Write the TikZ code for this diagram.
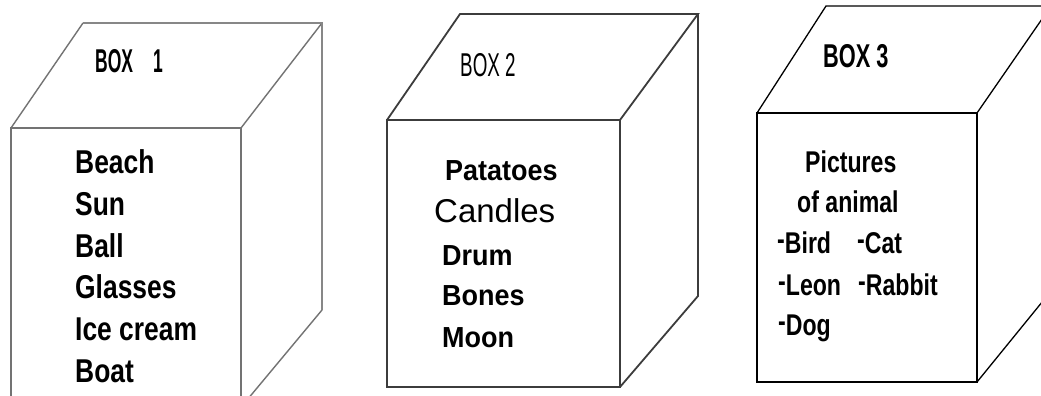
\documentclass[tikz,border=0pt]{standalone}
\usepackage{fontspec}
\setmainfont{Liberation Sans}
\newfontfamily\fitemA{Liberation Sans}[FakeStretch=0.80]
\newfontfamily\fitemB{Liberation Sans}[FakeStretch=0.93]
\newfontfamily\fitemC{Liberation Sans}[FakeStretch=0.77]
\newfontfamily\flabN{Liberation Sans}[FakeStretch=0.57]
\newfontfamily\flabO{Liberation Sans}[FakeStretch=0.53]
\newfontfamily\flabB{Liberation Sans}[FakeStretch=0.66]
\definecolor{lineA}{RGB}{115,115,115}
\definecolor{lineAback}{RGB}{135,135,135}
\definecolor{lineB}{RGB}{60,60,60}
\tikzset{
  boxa/.style={draw=lineA, line width=1.4pt, line join=miter},
  boxaback/.style={draw=lineAback, line width=2.6pt},
  boxb/.style={draw=lineB, line width=1.8pt, line join=miter},
  boxc/.style={draw=black, line width=1.3pt, line join=miter},
  itemA/.style={anchor=base west, inner sep=0pt, font=\fitemA\bfseries\fontsize{33}{40}\selectfont},
  itemB/.style={anchor=base west, inner sep=0pt, font=\fitemB\bfseries\fontsize{29}{35}\selectfont},
  itemBr/.style={anchor=base west, inner sep=0pt, font=\fontsize{33}{40}\selectfont},
  itemC/.style={anchor=base west, inner sep=0pt, font=\fitemC\bfseries\fontsize{30}{36}\selectfont},
  labN/.style={anchor=base west, inner sep=0pt, font=\flabN\fontsize{33}{40}\selectfont},
  labO/.style={anchor=base west, inner sep=0pt, font=\flabO\bfseries\fontsize{33}{40}\selectfont},
  labB/.style={anchor=base west, inner sep=0pt, font=\flabB\bfseries\fontsize{33}{40}\selectfont},
}
\newcommand{\rdash}{\raisebox{0.12em}{-}}
\begin{document}
\begin{tikzpicture}[x=1pt,y=-1pt]
\useasboundingbox (0,0) rectangle (1041,396);
\fill[white] (0,0) rectangle (1041,396);
\clip (0,0) rectangle (1041,396);

% ---- Box 1 ----
\draw[boxa] (11,420) -- (11,128) -- (241,128) -- (241,420);
\draw[boxa] (11,128) -- (83,23);
\draw[boxa] (241,128) -- (322,23);
\draw[boxa] (322,310) -- (232,418);
\draw[boxaback] (83,23) -- (322,23) -- (322,310);

\node[labO] (b1lab) at (95,72) {BOX\hspace{20pt}1};
\node[itemA] (b1i1) at (75,173) {Beach};
\node[itemA] (b1i2) at (75,215) {Sun};
\node[itemA] (b1i3) at (75,257) {Ball};
\node[itemA] (b1i4) at (75,298) {Glasses};
\node[itemA] (b1i5) at (75,340) {Ice cream};
\node[itemA] (b1i6) at (75,382) {Boat};

% ---- Box 2 ----
\draw[boxb] (387,120) rectangle (620,387);
\draw[boxb] (387,120) -- (460,14) -- (698,14) -- (620,120);
\draw[boxb] (698,14) -- (698,296) -- (620,387);

\node[labN] (b2lab) at (460,77) {BOX 2};
\node[itemB] (b2i1) at (445,180) {Patatoes};
\node[itemBr] (b2i2) at (434,222) {Candles};
\node[itemB] (b2i3) at (442,265) {Drum};
\node[itemB] (b2i4) at (442,305) {Bones};
\node[itemB] (b2i5) at (442,347) {Moon};

% ---- Box 3 ----
\draw[boxc] (757,113) rectangle (977,382);
\draw[boxc] (757,113) -- (826,6) -- (1060,6);
\draw[boxc] (977,113) -- (1051,6);
\draw[boxc] (977,382) -- (1060,280);

\node[labB] (b3lab) at (823,67) {BOX 3};
\node[itemC] (b3i1) at (805,172) {Pictures};
\node[itemC] (b3i2) at (797,212) {of animal};
\node[itemC] (b3i3) at (777,253) {\rdash Bird};
\node[itemC] (b3i4) at (857,253) {\rdash Cat};
\node[itemC] (b3i5) at (778,295) {\rdash Leon};
\node[itemC] (b3i6) at (858,295) {\rdash Rabbit};
\node[itemC] (b3i7) at (778,335) {\rdash Dog};
\end{tikzpicture}
\end{document}
